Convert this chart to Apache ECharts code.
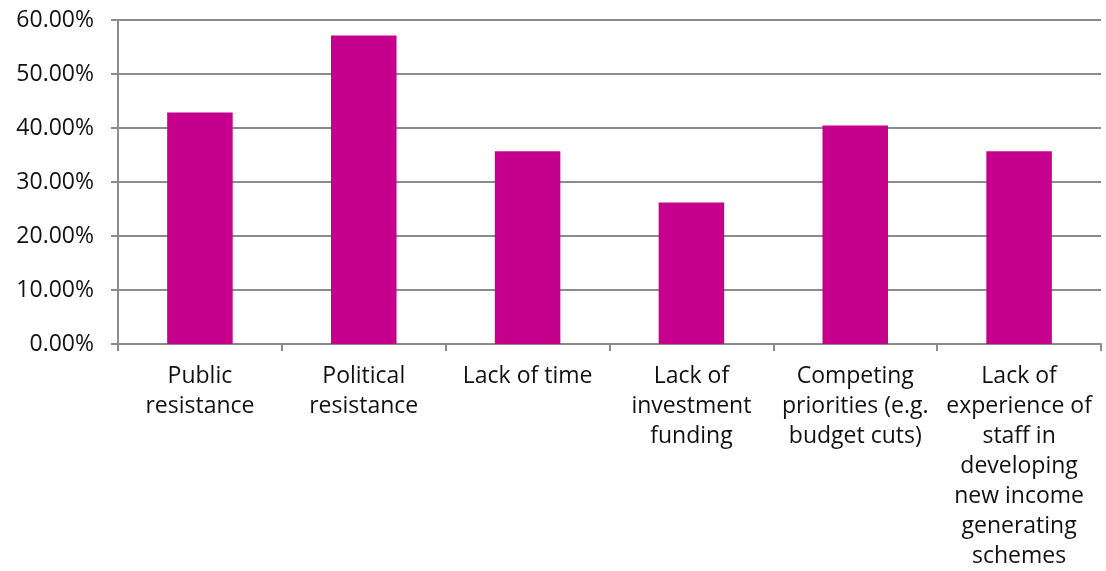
<!DOCTYPE html>
<html><head><meta charset="utf-8">
<script src="https://cdn.jsdelivr.net/npm/echarts@6/dist/echarts.min.js"></script>
<style>html,body{margin:0;padding:0;background:#fff}#c{width:1106px;height:571px}</style>
</head><body><div id="c"></div>
<script>
const categories = ["Public\nresistance","Political\nresistance","Lack of time","Lack of\ninvestment\nfunding","Competing\npriorities (e.g.\nbudget cuts)","Lack of\nexperience of\nstaff in\ndeveloping\nnew income\ngenerating\nschemes"];
const values = [42.86, 57.14, 35.71, 26.19, 40.48, 35.71];
const yTicks = [0, 10, 20, 30, 40, 50, 60];
const chart = echarts.init(document.getElementById('c'));
chart.setOption({
  animation: false,
  grid: {left: 118, right: 5, top: 20, bottom: 224, containLabel: false},
  xAxis: {
    type: 'category', data: categories,
    axisLine: {lineStyle: {color: '#8c8c8c', width: 2}},
    axisTick: {show: true, length: 7, lineStyle: {color: '#8c8c8c', width: 2}},
    axisLabel: {interval: 0, color: '#111', fontSize: 23, fontFamily: 'Open Sans', lineHeight: 30, margin: 17}
  },
  yAxis: {
    type: 'value', min: yTicks[0], max: yTicks[yTicks.length-1], interval: 10,
    axisLine: {show: true, lineStyle: {color: '#8c8c8c', width: 2}},
    axisTick: {show: true, inside: false, length: 7, lineStyle: {color: '#8c8c8c', width: 2}},
    splitLine: {lineStyle: {color: '#8c8c8c', width: 2}},
    axisLabel: {color: '#111', fontSize: 23, fontFamily: 'Open Sans', margin: 24, formatter: v => v.toFixed(2) + '%'}
  },
  series: [{type: 'bar', data: values, barWidth: '40%', itemStyle: {color: '#C4008D'}}]
});
</script></body></html>
